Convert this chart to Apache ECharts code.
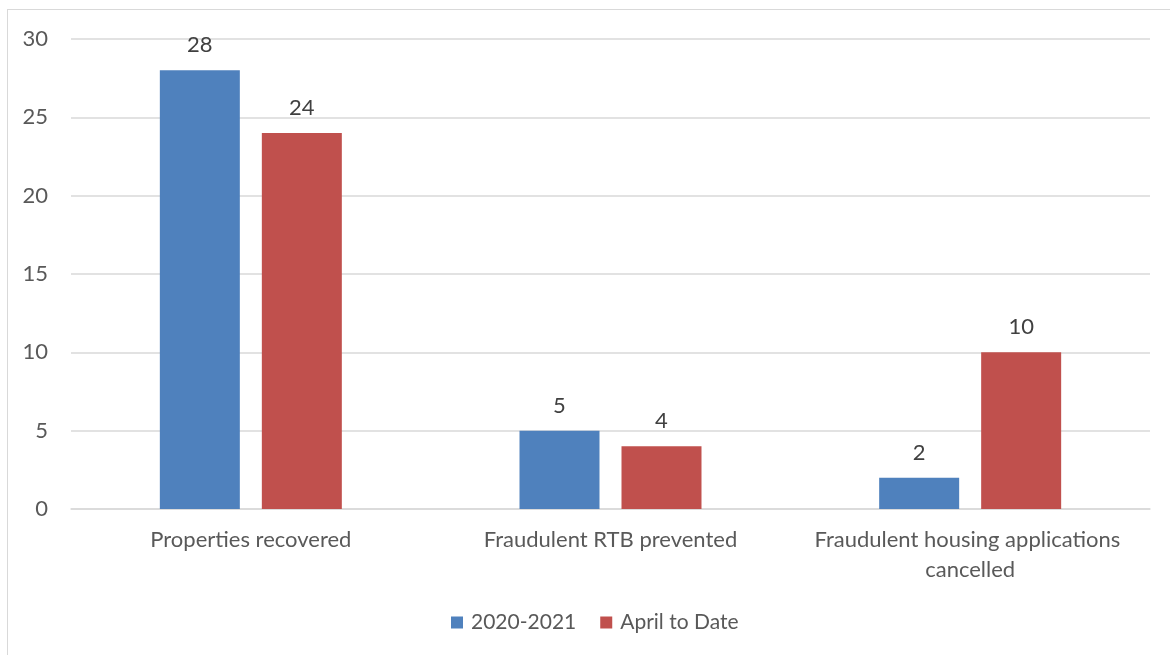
<!DOCTYPE html>
<html><head><meta charset="utf-8">
<script src="https://cdn.jsdelivr.net/npm/echarts@6/dist/echarts.min.js"></script>
<style>html,body{margin:0;padding:0;background:#fff}#frame{position:absolute;left:7px;top:9px;width:1180px;height:660px;border:1.5px solid #d9d9d9;box-sizing:border-box}#c{position:absolute;left:0;top:0;width:1170px;height:655px}</style>
</head><body><div id="frame"></div><div id="c"></div>
<script>
const categories = ["Properties recovered", "Fraudulent RTB prevented", "Fraudulent housing applications cancelled"];
const series2020 = [28, 5, 2];
const seriesApril = [24, 4, 10];
const seriesNames = ["2020-2021", "April to Date"];
const yTicks = [0, 5, 10, 15, 20, 25, 30];
const font = "Lato, 'Open Sans', sans-serif";
const fs = 22;
const chart = echarts.init(document.getElementById('c'));
chart.setOption({
  animation: false,
  textStyle: {fontFamily: font},
  grid: {left: 71, right: 20, top: 39, bottom: 146, containLabel: false},
  legend: {bottom: 17, left: 446, itemWidth: 12, itemHeight: 12, itemGap: 24,
    icon: 'rect', textStyle: {fontSize: 21, color: '#595959', fontFamily: font, padding: [0, 0, 0, 3]},
    data: seriesNames},
  xAxis: {type: 'category', data: categories,
    axisLine: {lineStyle: {color: '#d9d9d9', width: 1.5}}, axisTick: {show: false},
    axisLabel: {color: '#595959', fontSize: fs, margin: 16, lineHeight: 30, width: 345, overflow: 'break', interval: 0, fontFamily: font}},
  yAxis: {type: 'value', min: yTicks[0], max: yTicks[yTicks.length-1], interval: 5,
    axisLine: {show: false}, axisTick: {show: false},
    splitLine: {lineStyle: {color: '#d9d9d9', width: 1.5}},
    axisLabel: {color: '#595959', fontSize: fs, margin: 23, fontFamily: font}},
  series: [
    {name: seriesNames[0], type: 'bar', data: series2020, barGap: '27.5%', barCategoryGap: '49.4%',
     itemStyle: {color: '#4F81BD'},
     label: {show: true, position: 'top', distance: 14, color: '#404040', fontSize: fs, fontFamily: font}},
    {name: seriesNames[1], type: 'bar', data: seriesApril, barGap: '27.5%', barCategoryGap: '49.4%',
     itemStyle: {color: '#C0504D'},
     label: {show: true, position: 'top', distance: 14, color: '#404040', fontSize: fs, fontFamily: font}}
  ]
});
</script></body></html>
